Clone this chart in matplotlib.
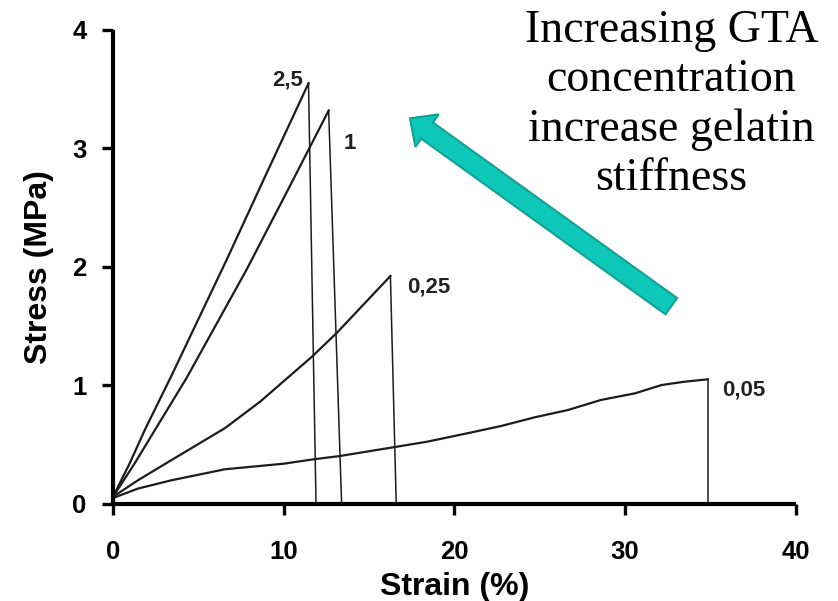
import matplotlib
matplotlib.use("Agg")
import matplotlib.pyplot as plt
from matplotlib.patches import FancyArrow
from matplotlib.transforms import IdentityTransform

# stress-strain curves, last point = end of the break drop
strain_25 = [0, 0.97, 1.85, 3.42, 6.66, 9.0, 11.46, 11.9]
stress_25 = [0.06, 0.34, 0.62, 1.08, 2.06, 2.79, 3.55, 0]

strain_1 = [0, 1.26, 2.44, 4.3, 7.84, 10.5, 12.64, 13.4]
stress_1 = [0.06, 0.34, 0.62, 1.06, 1.98, 2.72, 3.32, 0]

strain_025 = [0, 1.46, 3.42, 6.56, 8.62, 11.66, 13.13, 16.26, 16.6]
stress_025 = [0.06, 0.20, 0.37, 0.64, 0.863, 1.243, 1.446, 1.924, 0]

strain_005 = [0, 1.46, 3.42, 6.56, 10.0, 11.75, 13.3, 16.66, 18.42, 20.78,
              22.74, 24.7, 26.66, 28.6, 30.6, 32.15, 33.5, 34.85, 34.85]
stress_005 = [0.05, 0.13, 0.20, 0.293, 0.34, 0.377, 0.405, 0.484, 0.526, 0.597,
              0.658, 0.731, 0.793, 0.878, 0.934, 1.004, 1.032, 1.052, 0]

curve_labels = ["2,5", "1", "0,25", "0,05"]
x_ticks = [0, 10, 20, 30, 40]
y_ticks = [0, 1, 2, 3, 4]

fig = plt.figure(figsize=(8.38, 6.01), dpi=100)
ax = fig.add_axes([0.1348, 0.1614, 0.8145, 0.7887])

curves = [(strain_25, stress_25), (strain_1, stress_1),
          (strain_025, stress_025), (strain_005, stress_005)]
for sx, sy in curves:
    # rising part a bit heavier than the break line
    ax.plot(sx[:-1], sy[:-1], color="#1c1c1c", lw=1.6, solid_joinstyle="round")
    ax.plot(sx[-2:], sy[-2:], color="#1c1c1c", lw=1.1)

# labels next to each peak
lab_font = dict(family="Liberation Sans", weight="bold", size=16, color="#222222")
ax.text(strain_25[-2] - 0.3, stress_25[-2] + 0.03, curve_labels[0], ha="right", va="center", **lab_font)
ax.text(strain_1[-2] + 0.85, stress_1[-2] - 0.28, curve_labels[1], ha="left", va="center", **lab_font)
ax.text(strain_025[-2] + 1.0, stress_025[-2] - 0.09, curve_labels[2], ha="left", va="center", **lab_font)
ax.text(strain_005[-2] + 0.85, stress_005[-2] - 0.09, curve_labels[3], ha="left", va="center", **lab_font)

ax.set_xlim(0, 40)
ax.set_ylim(0, 4)
ax.set_xticks(x_ticks)
ax.set_yticks(y_ticks)
for s in ["top", "right"]:
    ax.spines[s].set_visible(False)
for s in ["left", "bottom"]:
    ax.spines[s].set_linewidth(3.0)
    ax.spines[s].set_capstyle("butt")
ax.tick_params(axis="both", direction="out", length=8, width=2.4, color="black")
ax.tick_params(axis="x", pad=18)
ax.tick_params(axis="y", pad=11)
for t in ax.get_xticklabels() + ax.get_yticklabels():
    t.set_fontfamily("Liberation Sans")
    t.set_fontweight("bold")
    t.set_fontsize(18.5)

ax.set_xlabel("Strain (%)", fontfamily="Liberation Sans", fontweight="bold", fontsize=23)
ax.set_ylabel("Stress (MPa)", fontfamily="Liberation Sans", fontweight="bold", fontsize=23)
ax.xaxis.set_label_coords(0.501, -0.143)
ax.yaxis.set_label_coords(-0.087, 0.5)

# the note and the teal arrow (drawn in pixels)
fig.text(671.5 / 838, (601 - 190) / 601,
         "Increasing GTA\nconcentration\nincrease gelatin\nstiffness",
         ha="center", va="baseline", fontfamily="Liberation Serif", fontsize=33,
         linespacing=1.21, multialignment="center")

tail_x, tail_y = 671.3, 601 - 306.2
tip_x, tip_y = 410.0, 601 - 118.3
arrow = FancyArrow(tail_x, tail_y, tip_x - tail_x, tip_y - tail_y,
                   width=20, head_width=40, head_length=21,
                   length_includes_head=True, transform=IdentityTransform(),
                   facecolor="#0dc8b8", edgecolor="#12a193", lw=1.5)
fig.add_artist(arrow)

fig.savefig("out.png", dpi=100)
